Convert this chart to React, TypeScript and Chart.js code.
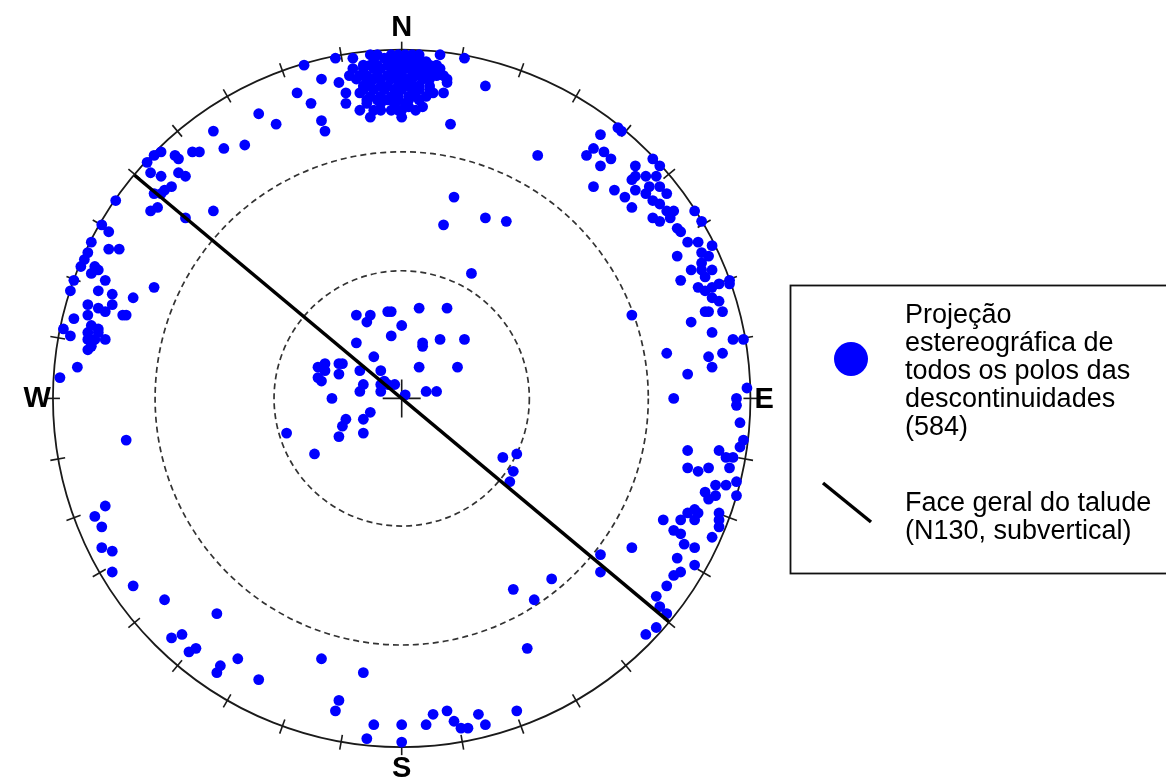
import React, { useEffect, useRef } from "react";
import { Chart, registerables } from "chart.js";

Chart.register(...registerables);

// Poles of the discontinuities on the equal-area net, as [east, north]
// in percent of the primitive circle radius.
type Pole = [number, number];

const northCluster: Pole[] = [
  [-28, 96], [-23, 92], [-30, 88], [-26, 85], [-23, 80], [-22, 77], [-19, 98], [-18, 91],
  [-16, 88], [-16, 85], [-14, 98], [-9, 99], [-7, 99], [11, 99], [18, 98], [13, 92],
  [24, 90], [14, 79], [-12, 83], [-9, 81], [-6, 83], [-1, 83], [0, 81], [2, 84],
  [6, 84], [-12, 88], [-10, 85], [9, 88], [12, 93], [9, 94], [5, 97], [8, 94],
  [-3, 99], [-1, 99], [1, 99], [3, 99], [5, 99],
  [-8, 98], [-5, 98], [-3, 98], [-1, 98], [1, 98], [3, 98], [5, 98], [7, 97],
  [-11, 96], [-9, 96], [-7, 96], [-4, 96], [-2, 96], [0, 96], [2, 96], [4, 96], [6, 96], [8, 96], [10, 96],
  [-14, 95], [-11, 95], [-8, 95], [-6, 95], [-3, 95], [-1, 95], [1, 95], [3, 95], [5, 95], [7, 95],
  [-15, 93], [-12, 93], [-10, 93], [-7, 93], [-4, 93], [-2, 93], [0, 93], [3, 93], [5, 93], [7, 93], [10, 93],
  [-13, 92], [-10, 92], [-8, 92], [-6, 92], [-3, 92], [-1, 92], [1, 92], [3, 92], [6, 92], [8, 92],
  [-11, 90], [-9, 90], [-6, 90], [-4, 90], [-1, 90], [1, 90], [3, 90], [5, 90], [8, 90],
  [-11, 89], [-8, 89], [-5, 89], [-2, 89], [0, 89], [3, 89], [5, 89], [8, 89],
  [-9, 87], [-6, 87], [-3, 87], [-1, 87], [2, 87], [4, 87], [7, 87],
  [-10, 86], [-7, 86], [-4, 86], [-1, 86], [2, 86], [5, 86],
  [-6, 85], [-2, 85], [1, 85], [-8, 83], [-3, 83], [0, 83], [4, 83],
  [13, 91], [12, 88], [11, 95],
];

const westBelt: Pole[] = [
  [-41, 82], [-36, 79], [-54, 77], [-51, 72], [-45, 73], [-60, 71], [-58, 71], [-71, 70],
  [-69, 71], [-73, 68], [-65, 70], [-64, 69], [-64, 65], [-62, 64], [-72, 65], [-69, 64],
  [-66, 61], [-68, 60], [-69, 59], [-71, 59], [-72, 54], [-70, 55], [-54, 54], [-62, 52],
  [-82, 57], [-86, 50], [-84, 48],
  [-89, 45], [-84, 43], [-81, 43], [-90, 42], [-91, 40], [-92, 38], [-88, 38], [-87, 37],
  [-89, 36], [-94, 34], [-85, 34], [-87, 31], [-95, 31], [-83, 30], [-77, 29], [-71, 32],
  [-90, 27], [-83, 27], [-87, 26], [-85, 25], [-90, 24], [-94, 23], [-80, 24], [-79, 24],
  [-97, 20], [-95, 18], [-89, 21], [-87, 20], [-90, 19], [-88, 17], [-85, 17], [-90, 17],
  [-89, 15], [-90, 14], [-89, 16], [-87, 19], [-93, 9], [-98, 6], [-79, -12],
];

const eastBelt: Pole[] = [
  [62, 78], [63, 77], [57, 76], [39, 70], [55, 72], [53, 70], [58, 71], [60, 69],
  [57, 67], [55, 61], [61, 60], [64, 58], [66, 55], [72, 69], [74, 67], [67, 67],
  [70, 64], [73, 64], [67, 64], [66, 63], [67, 60], [71, 61], [74, 61], [76, 59],
  [70, 59], [72, 57], [74, 56], [76, 54], [78, 54], [72, 52], [74, 51], [77, 52],
  [79, 49], [80, 48], [82, 45], [85, 45], [84, 54], [86, 51],
  [89, 44], [79, 41], [86, 42], [88, 41], [86, 39], [83, 37], [86, 37], [89, 37],
  [87, 35], [80, 34], [85, 32], [87, 31], [89, 32], [91, 33], [94, 34], [94, 33],
  [89, 29], [91, 28], [87, 25], [88, 25], [92, 25], [83, 22], [89, 19], [95, 17],
  [98, 17], [66, 24], [76, 13], [88, 12], [89, 9], [92, 13], [82, 7], [99, 3],
  [96, 0], [96, -2], [78, 0], [97, -7], [98, -12], [97, -14], [82, -15], [91, -15],
  [93, -17], [95, -17], [94, -20], [82, -20], [85, -21], [88, -20],
  [87, -27], [88, -29], [90, -28], [90, -25], [93, -25], [96, -24], [96, -28],
  [80, -35], [82, -33], [84, -32], [85, -33], [84, -35], [91, -33], [91, -35], [91, -37],
  [89, -40], [75, -35], [78, -38], [80, -39], [81, -42], [84, -43], [79, -46], [84, -48],
  [78, -51], [80, -50], [76, -54], [73, -57], [74, -60], [76, -62], [73, -66], [70, -68],
  [66, -43], [57, -45], [57, -50], [43, -52], [38, -58], [36, -72], [32, -55],
];

const centralCluster: Pole[] = [
  [15, 58], [12, 50], [24, 52], [30, 51], [20, 36], [-13, 24], [-9, 24], [-10, 22],
  [-4, 25], [-3, 25], [0, 21], [5, 26], [13, 26], [-3, 18], [-13, 16], [6, 16],
  [6, 15], [11, 17], [18, 17], [-8, 12], [-24, 9], [-22, 10], [-22, 8], [-18, 10],
  [-17, 10], [-18, 7], [-24, 6], [-23, 5], [-12, 8], [-6, 8], [-5, 5], [-6, 4],
  [-4, 4], [-2, 4], [-6, 2], [-11, 4], [-12, 2], [5, 9], [16, 9], [1, 1],
  [7, 2], [10, 2], [-20, 0], [-9, -4], [-11, -6], [-16, -6], [-17, -8], [-18, -11],
  [-11, -10], [-33, -10], [-25, -16], [29, -17], [33, -16], [32, -21], [31, -24],
];

const southBelt: Pole[] = [
  [-85, -31], [-88, -34], [-86, -37], [-86, -43], [-83, -44], [-83, -50], [-77, -54], [-68, -58],
  [-53, -62], [-66, -69], [-63, -68], [-59, -72], [-61, -73], [-47, -75], [-52, -77], [-53, -79],
  [-41, -81], [-23, -75], [-11, -79], [-18, -87], [-19, -90], [-8, -94], [-10, -98], [0, -94],
  [0, -99], [7, -94], [9, -91], [13, -90], [15, -93], [17, -95], [19, -95], [22, -91],
  [24, -94], [33, -90],
];

// General slope face: strike N130, subvertical (plots as a diameter)
const faceStrike = 130;
// Dashed reference circles (dip, degrees)
const referenceDips = [30, 60];
const tickStepDeg = 10;
const cardinals = [
  { label: "N", az: 0 },
  { label: "E", az: 90 },
  { label: "S", az: 180 },
  { label: "W", az: 270 },
];
const poleLegendLines = ["Projeção", "estereográfica de", "todos os polos das", "descontinuidades", "(584)"];
const faceLegendLines = ["Face geral do talude", "(N130, subvertical)"];

const NET_R = 100;
const WIDTH = 1166;
const HEIGHT = 783;
const PX_PER_UNIT = 3.52;
const CENTER_PX = { x: 400, y: 398.5 };

const FONT = "'Liberation Sans', Arial, Helvetica, sans-serif";
const POLE_BLUE = "#0000FF";

const rad = (d: number) => (d * Math.PI) / 180;

const stereonetPlugin = {
  id: "stereonet",
  beforeDatasetsDraw(chart: any) {
    const { ctx } = chart;
    const xs = chart.scales.x;
    const ys = chart.scales.y;
    const cx = xs.getPixelForValue(0);
    const cy = ys.getPixelForValue(0);
    const R = xs.getPixelForValue(NET_R) - cx;
    ctx.save();

    // equal-area reference circles
    ctx.strokeStyle = "#333";
    ctx.lineWidth = 1.7;
    ctx.setLineDash([6, 4]);
    for (const d of referenceDips) {
      const r = R * Math.SQRT2 * Math.sin(rad(d) / 2);
      ctx.beginPath();
      ctx.arc(cx, cy, r, 0, Math.PI * 2);
      ctx.stroke();
    }
    ctx.setLineDash([]);

    // primitive circle
    ctx.strokeStyle = "#1a1a1a";
    ctx.lineWidth = 1.8;
    ctx.beginPath();
    ctx.arc(cx, cy, R, 0, Math.PI * 2);
    ctx.stroke();

    // azimuth ticks
    ctx.lineWidth = 1.6;
    for (let a = 0; a < 360; a += tickStepDeg) {
      const sx = Math.sin(rad(a));
      const sy = -Math.cos(rad(a));
      ctx.beginPath();
      ctx.moveTo(cx + sx * (R - 7), cy + sy * (R - 7));
      ctx.lineTo(cx + sx * (R + 8), cy + sy * (R + 8));
      ctx.stroke();
    }

    // centre cross
    ctx.beginPath();
    ctx.moveTo(cx - 19, cy);
    ctx.lineTo(cx + 19, cy);
    ctx.moveTo(cx, cy - 19);
    ctx.lineTo(cx, cy + 19);
    ctx.stroke();

    // cardinal labels
    ctx.fillStyle = "#000";
    ctx.font = `bold 29px ${FONT}`;
    ctx.textBaseline = "middle";
    for (const c of cardinals) {
      const sx = Math.sin(rad(c.az));
      const sy = -Math.cos(rad(c.az));
      if (c.az === 0 || c.az === 180) {
        ctx.textAlign = "center";
        ctx.fillText(c.label, cx, cy + sy * (R + 22));
      } else if (c.az === 90) {
        ctx.textAlign = "left";
        ctx.fillText(c.label, cx + sx * (R + 4), cy + 2);
      } else {
        ctx.textAlign = "right";
        ctx.fillText(c.label, cx + sx * (R + 2), cy + 1);
      }
    }
    ctx.restore();
  },
  afterDraw(chart: any) {
    const { ctx } = chart;
    ctx.save();
    // legend frame
    ctx.strokeStyle = "#111";
    ctx.lineWidth = 1.8;
    ctx.strokeRect(790.5, 285.5, 420, 288);

    // pole symbol
    ctx.fillStyle = POLE_BLUE;
    ctx.beginPath();
    ctx.arc(851, 359, 17, 0, Math.PI * 2);
    ctx.fill();

    // slope face symbol
    ctx.strokeStyle = "#000";
    ctx.lineWidth = 3.5;
    ctx.beginPath();
    ctx.moveTo(823, 483);
    ctx.lineTo(871, 522);
    ctx.stroke();

    ctx.fillStyle = "#000";
    ctx.font = `27px ${FONT}`;
    ctx.textAlign = "left";
    ctx.textBaseline = "alphabetic";
    poleLegendLines.forEach((t, i) => ctx.fillText(t, 905, 323 + i * 28));
    faceLegendLines.forEach((t, i) => ctx.fillText(t, 905, 510.5 + i * 28));
    ctx.restore();
  },
};

export default function App() {
  const canvasRef = useRef<HTMLCanvasElement | null>(null);

  useEffect(() => {
    const canvas = canvasRef.current;
    if (!canvas) return;

    const poles = [...northCluster, ...westBelt, ...eastBelt, ...centralCluster, ...southBelt].map(
      ([e, n]) => ({ x: e, y: n })
    );
    const faceLine = [faceStrike + 180, faceStrike].map((az) => ({
      x: NET_R * Math.sin(rad(az)),
      y: NET_R * Math.cos(rad(az)),
    }));

    const chart = new Chart(canvas, {
      type: "scatter",
      data: {
        datasets: [
          {
            type: "line",
            label: "Face geral do talude",
            data: faceLine,
            borderColor: "#000",
            borderWidth: 3.5,
            pointRadius: 0,
            fill: false,
            order: 0,
          } as any,
          {
            label: "Polos das descontinuidades",
            data: poles,
            backgroundColor: POLE_BLUE,
            borderWidth: 0,
            pointRadius: 5.4,
            pointHoverRadius: 5.4,
            order: 1,
          },
        ],
      },
      options: {
        responsive: false,
        animation: false,
        devicePixelRatio: 1,
        events: [],
        layout: { padding: 0 },
        scales: {
          x: {
            type: "linear",
            display: false,
            min: -CENTER_PX.x / PX_PER_UNIT,
            max: (WIDTH - CENTER_PX.x) / PX_PER_UNIT,
          },
          y: {
            type: "linear",
            display: false,
            min: -(HEIGHT - CENTER_PX.y) / PX_PER_UNIT,
            max: CENTER_PX.y / PX_PER_UNIT,
          },
        },
        plugins: {
          legend: { display: false },
          tooltip: { enabled: false },
        },
      },
      plugins: [stereonetPlugin],
    });

    return () => chart.destroy();
  }, []);

  return (
    <div style={{ position: "fixed", left: 0, top: 0, width: WIDTH, height: HEIGHT, background: "#fff" }}>
      <canvas ref={canvasRef} width={WIDTH} height={HEIGHT} style={{ display: "block" }} />
    </div>
  );
}
